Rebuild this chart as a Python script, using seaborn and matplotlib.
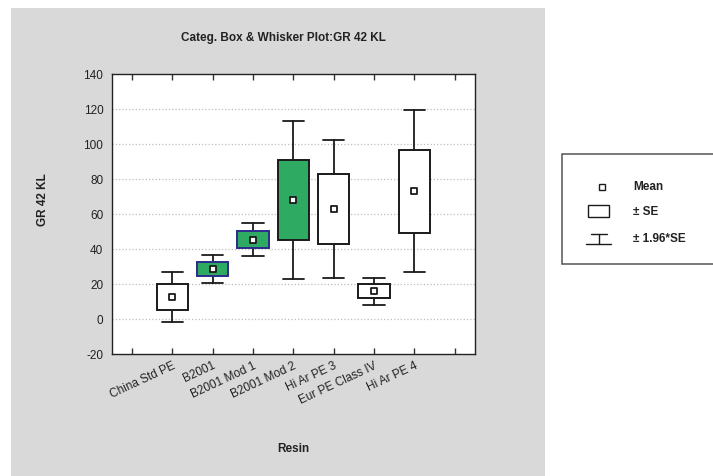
import matplotlib
matplotlib.use("Agg")
import matplotlib.pyplot as plt
from matplotlib.patches import Rectangle
import seaborn as sns
import pandas as pd

# data: mean and standard error per resin
resins = ["China Std PE", "B2001", "B2001 Mod 1", "B2001 Mod 2",
          "Hi Ar PE 3", "Eur PE Class IV", "Hi Ar PE 4"]
means = [12.6, 28.8, 45.5, 68.2, 63.0, 16.0, 73.1]
se = [7.35, 4.0, 4.75, 22.95, 20.1, 4.0, 23.6]
box_fill = ["white", "#2eaa62", "#2eaa62", "#2eaa62", "white", "white", "white"]
box_edge = ["#1a1a1a", "#2b2b8c", "#2b2b8c", "#1a1a1a", "#1a1a1a", "#1a1a1a", "#1a1a1a"]

df = pd.DataFrame({"resin": resins, "mean": means, "se": se})
df["pos"] = range(1, len(resins) + 1)

sns.set_theme(style="white")
plt.rcParams["font.family"] = ["Liberation Sans", "DejaVu Sans"]
plt.rcParams["axes.unicode_minus"] = False

W, H = 713, 476
fig = plt.figure(figsize=(W / 100, H / 100), dpi=100)
fig.patch.set_facecolor("white")

# gray panel behind the plot
bg = fig.add_axes([0, 0, 1, 1], zorder=-2)
bg.set_xlim(0, W)
bg.set_ylim(H, 0)
bg.axis("off")
bg.add_patch(Rectangle((11, 8), 534, 470, facecolor="#d9d9d9", edgecolor="none"))

ax = fig.add_axes([111.7 / W, 1 - 354.3 / H, (475 - 111.7) / W, (354.3 - 74.3) / H])
ax.set_facecolor("white")

stats = []
for _, r in df.iterrows():
    stats.append(dict(med=r["mean"], q1=r["mean"] - r["se"], q3=r["mean"] + r["se"],
                      whislo=r["mean"] - 1.96 * r["se"], whishi=r["mean"] + 1.96 * r["se"],
                      fliers=[]))

bp = ax.bxp(stats, positions=df["pos"], widths=0.78, capwidths=0.53,
            showfliers=False, patch_artist=True,
            medianprops=dict(linewidth=0),
            whiskerprops=dict(color="#1a1a1a", linewidth=1.3),
            capprops=dict(color="#1a1a1a", linewidth=1.3))
for patch, fc, ec in zip(bp["boxes"], box_fill, box_edge):
    patch.set_facecolor(fc)
    patch.set_edgecolor(ec)
    patch.set_linewidth(1.4)
    patch.set_zorder(3)

sns.scatterplot(data=df, x="pos", y="mean", marker="s", s=24, color="white",
                edgecolor="#1a1a1a", linewidth=1.3, zorder=5, ax=ax, legend=False)

ax.set_xlim(-0.5, 8.5)
ax.set_ylim(-20, 140)
ax.set_yticks(range(-20, 141, 20))
ax.set_xticks(range(0, 9))
ax.set_xticklabels([""] + resins + [""], rotation=25, ha="right",
                   rotation_mode="anchor", fontsize=8.5, color="#222222")
ax.tick_params(axis="x", direction="in", length=4, width=1, top=True, bottom=True,
               color="#333333", pad=4)
ax.tick_params(axis="y", direction="in", length=0, labelsize=8.5, labelcolor="#222222", pad=6)
for y in range(0, 121, 20):
    ax.axhline(y, color="#bdbdbd", linestyle=":", linewidth=0.9, zorder=0)
for s in ax.spines.values():
    s.set_color("#222222")
    s.set_linewidth(1.0)
ax.set_xlabel("")
ax.set_ylabel("")

fig.text(283 / W, 1 - 38 / H, "Categ. Box & Whisker Plot:GR 42 KL", ha="center", va="center",
         fontsize=8.5, fontweight="bold", color="#222222")
fig.text(43 / W, 1 - 200 / H, "GR 42 KL", rotation=90, ha="center", va="center",
         fontsize=8.5, fontweight="bold", color="#222222")
fig.text(293 / W, 1 - 449 / H, "Resin", ha="center", va="center",
         fontsize=8.5, fontweight="bold", color="#222222")

# legend box drawn in pixel coordinates
lg = fig.add_axes([0, 0, 1, 1], zorder=5)
lg.set_xlim(0, W)
lg.set_ylim(H, 0)
lg.axis("off")
lg.add_patch(Rectangle((562, 154), 170, 110, facecolor="white", edgecolor="#555555", linewidth=1.1))
lg.plot([601.7], [186.5], marker="s", markersize=5, markerfacecolor="white",
        markeredgecolor="#1a1a1a", markeredgewidth=1.0)
lg.add_patch(Rectangle((587.7, 205), 21.5, 12, facecolor="white", edgecolor="#1a1a1a", linewidth=1.0))
lg.plot([591, 607], [234, 234], color="#1a1a1a", linewidth=1.0)
lg.plot([599, 599], [234, 244], color="#1a1a1a", linewidth=1.0)
lg.plot([586, 611], [244, 244], color="#1a1a1a", linewidth=1.0)
for ty, label in [(186.5, "Mean"), (212, "± SE"), (239, "± 1.96*SE")]:
    lg.text(633, ty, label, ha="left", va="center", fontsize=8.5, fontweight="bold", color="#222222")

fig.savefig("out.png", dpi=100)
